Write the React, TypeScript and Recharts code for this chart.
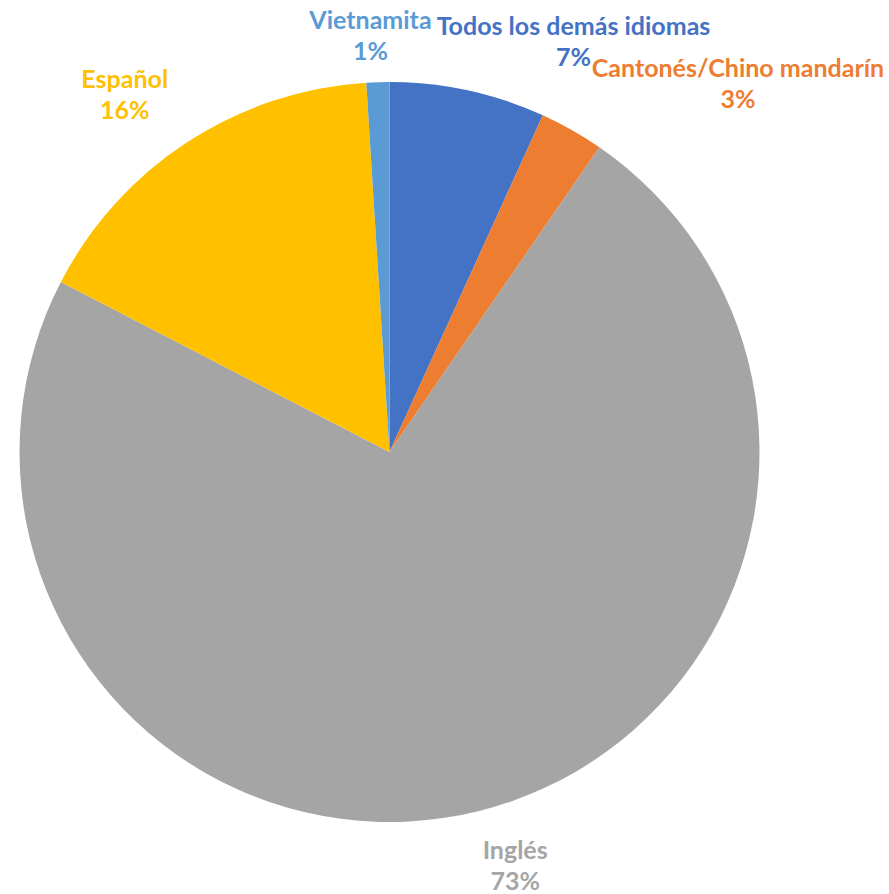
import React from "react";
import { PieChart, Pie, Cell } from "recharts";

const languages = ["Todos los demás idiomas", "Cantonés/Chino mandarín", "Inglés", "Español", "Vietnamita"];
const shares = [6.8, 2.8, 73.0, 16.4, 1.0];
const colors = ["#4472C4", "#ED7D31", "#A5A5A5", "#FFC000", "#5B9BD5"];

// label nudges (pixels) relative to the default outside position
const labelNudge: Record<string, [number, number]> = {
  "Todos los demás idiomas": [96, -6],
  "Cantonés/Chino mandarín": [144, -8],
  "Inglés": [25, 10],
  "Español": [-38, -11],
  "Vietnamita": [-6, -3],
};

const data = languages.map((name, i) => ({ name, value: shares[i] }));
const total = shares.reduce((a, b) => a + b, 0);
const RAD = Math.PI / 180;

const renderLabel = (props: any) => {
  const { cx, cy, midAngle, outerRadius, index, name, value } = props;
  const r = outerRadius + 45;
  const nudge = labelNudge[name] || [0, 0];
  const x = cx + r * Math.cos(-midAngle * RAD) + nudge[0];
  const y = cy + r * Math.sin(-midAngle * RAD) + nudge[1];
  const pct = Math.round((value / total) * 100);
  return (
    <text
      x={x}
      y={y}
      textAnchor="middle"
      fill={colors[index]}
      fontFamily="Lato, 'Open Sans', sans-serif"
      fontWeight="bold"
      fontSize={25}
    >
      <tspan x={x} y={y - 15.5} dominantBaseline="central">{name}</tspan>
      <tspan x={x} y={y + 15.5} dominantBaseline="central">{pct}%</tspan>
    </text>
  );
};

export default function App() {
  return (
    <div style={{ position: "absolute", left: 0, top: 0, width: 889, height: 894, background: "#fff" }}>
      <style>{`.recharts-pie-sectors { filter: drop-shadow(0px 0px 5px rgba(0,0,0,0.35)); }`}</style>
      <PieChart width={889} height={894} margin={{ top: 0, right: 0, bottom: 0, left: 0 }}>
        <Pie
          data={data}
          dataKey="value"
          nameKey="name"
          cx={389.5}
          cy={452}
          outerRadius={370}
          startAngle={90}
          endAngle={-270}
          stroke="none"
          label={renderLabel}
          labelLine={false}
          isAnimationActive={false}
        >
          {data.map((d, i) => (
            <Cell key={d.name} fill={colors[i]} />
          ))}
        </Pie>
      </PieChart>
    </div>
  );
}
